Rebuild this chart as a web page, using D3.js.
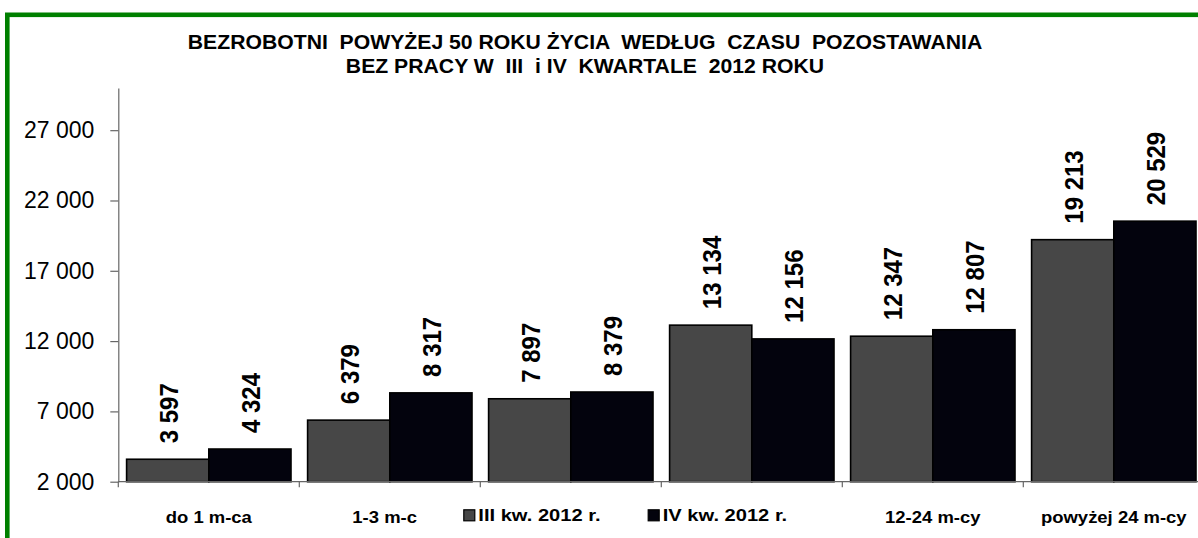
<!DOCTYPE html>
<html>
<head>
<meta charset="utf-8">
<script src="https://cdn.jsdelivr.net/npm/d3@7"></script>
<style>
  html, body { margin: 0; padding: 0; background: #fff; overflow: hidden; }
  svg { display: block; font-family: "Liberation Sans", Arial, sans-serif; }
</style>
</head>
<body>
<svg id="chart" width="1198" height="538"></svg>
<script>
// ---- data ----
const titleLines = [
  "BEZROBOTNI  POWYŻEJ 50 ROKU ŻYCIA  WEDŁUG  CZASU  POZOSTAWANIA",
  "BEZ PRACY W  III  i IV  KWARTALE  2012 ROKU"
];
const categories = ["do 1 m-ca", "1-3 m-cy", "3-6 m-cy", "6-12 m-cy", "12-24 m-cy", "powyżej 24 m-cy"];
const seriesNames = ["III kw. 2012 r.", "IV kw. 2012 r."];
const q3Values = [3597, 6379, 7897, 13134, 12347, 19213];
const q4Values = [4324, 8317, 8379, 12156, 12807, 20529];
const yTicks = [2000, 7000, 12000, 17000, 22000, 27000];
const yDomain = [2000, 30000];
const seriesColors = ["#474747", "#03030d"];

// ---- layout ----
const svg = d3.select("#chart");
const W = 1198, H = 538;
const plot = { left: 118.3, right: 118.3 + 6 * 181, top: 88, bottom: 481.7 };
const legendBox = { x: 417, y: 493, w: 418, h: 40 };
const fmt = d3.formatLocale({ decimal: ",", thousands: " ", grouping: [3], currency: ["", ""] }).format(",d");

// green frame
svg.append("rect")
  .attr("x", 7.3).attr("y", 14.8)
  .attr("width", W + 20).attr("height", H + 20)
  .attr("fill", "#fff").attr("stroke", "#008000").attr("stroke-width", 4.6);

const x0 = d3.scaleBand().domain(categories).range([plot.left, plot.right]).padding(0);
const x1 = d3.scaleBand().domain(seriesNames).range([8.3, x0.bandwidth() - 8.3]).padding(0);
const y = d3.scaleLinear().domain(yDomain).range([plot.bottom, plot.top]);

// title
svg.append("g").selectAll("text").data(titleLines).join("text")
  .attr("transform", (d, i) => `translate(585,${49.3 + i * 23.8}) scale(1.06,1)`)
  .attr("text-anchor", "middle")
  .style("white-space", "pre")
  .attr("font-size", 20).attr("font-weight", "bold").attr("fill", "#000")
  .text(d => d);

// y axis
const yAxis = svg.append("g")
  .attr("transform", `translate(${plot.left},0)`)
  .call(d3.axisLeft(y).tickValues(yTicks).tickSize(8).tickSizeOuter(0).tickPadding(16).tickFormat(fmt));
yAxis.select(".domain").attr("stroke", "#666").attr("stroke-width", 1.2);
yAxis.selectAll(".tick line").attr("stroke", "#666").attr("stroke-width", 1.2);
yAxis.selectAll(".tick text").attr("font-size", 23).attr("fill", "#000")
  .attr("font-family", "Liberation Sans, Arial, sans-serif");

// bars
const rows = categories.map((c, i) => ({ cat: c, vals: [q3Values[i], q4Values[i]] }));
const groups = svg.append("g").selectAll("g").data(rows).join("g")
  .attr("transform", d => `translate(${x0(d.cat)},0)`);
groups.selectAll("rect").data(d => d.vals.map((v, j) => ({ s: seriesNames[j], v, j }))).join("rect")
  .attr("x", d => x1(d.s))
  .attr("y", d => y(d.v))
  .attr("width", x1.bandwidth())
  .attr("height", d => y(yDomain[0]) - y(d.v))
  .attr("fill", d => seriesColors[d.j])
  .attr("stroke", "#000").attr("stroke-width", 1.6);

// x axis line and boundary ticks
svg.append("line")
  .attr("x1", plot.left).attr("x2", plot.right)
  .attr("y1", y(yDomain[0])).attr("y2", y(yDomain[0]))
  .attr("stroke", "#666").attr("stroke-width", 1.2);
svg.append("g").selectAll("line").data(categories.concat(["__end"])).join("line")
  .attr("x1", d => d === "__end" ? plot.right : x0(d))
  .attr("x2", d => d === "__end" ? plot.right : x0(d))
  .attr("y1", y(yDomain[0])).attr("y2", y(yDomain[0]) + 5.5)
  .attr("stroke", "#666").attr("stroke-width", 1.2);

// data labels
groups.selectAll("text").data(d => d.vals.map((v, j) => ({ s: seriesNames[j], v, j }))).join("text")
  .attr("transform", d => `translate(${x1(d.s) + x1.bandwidth() / 2 + 1},${y(d.v) - 16}) scale(1.1,1) rotate(-90)`)
  .attr("dy", "0.36em")
  .attr("text-anchor", "start")
  .attr("font-size", 24).attr("font-weight", "bold").attr("fill", "#000")
  .text(d => fmt(d.v));

// category labels (clipped where the legend box covers them, as in the original)
svg.append("clipPath").attr("id", "catClip")
  .append("path")
  .attr("d", `M0,${legendBox.y - 20}H${legendBox.x}V${H}H0Z M${legendBox.x + legendBox.w},${legendBox.y - 20}H${W}V${H}H${legendBox.x + legendBox.w}Z`);
const catCenter = d => x0(d) + x0.bandwidth() / 2;
const visibleCats = categories.filter(d => catCenter(d) < legendBox.x || catCenter(d) > legendBox.x + legendBox.w);
svg.append("g").attr("clip-path", "url(#catClip)")
  .selectAll("text").data(visibleCats).join("text")
  .attr("transform", d => `translate(${catCenter(d)},523.3) scale(1.12,1)`)
  .attr("text-anchor", "middle")
  .attr("font-size", 16.5).attr("font-weight", "bold").attr("fill", "#000")
  .text(d => d);

// legend
const legend = svg.append("g");
legend.append("rect")
  .attr("x", legendBox.x).attr("y", legendBox.y).attr("width", legendBox.w).attr("height", legendBox.h)
  .attr("fill", "#fff");
const legendX = [463.3, 647.7];
const li = legend.selectAll("g").data(seriesNames).join("g")
  .attr("transform", (d, i) => `translate(${legendX[i]},509.3)`);
li.append("rect")
  .attr("x", 0.5).attr("y", 0.5).attr("width", 11).attr("height", 11)
  .attr("fill", (d, i) => seriesColors[i]).attr("stroke", "#000").attr("stroke-width", 1.2);
li.append("text")
  .attr("transform", "translate(15,12) scale(1.22,1)")
  .attr("font-size", 16.5).attr("font-weight", "bold").attr("fill", "#000")
  .text(d => d);
</script>
</body>
</html>
